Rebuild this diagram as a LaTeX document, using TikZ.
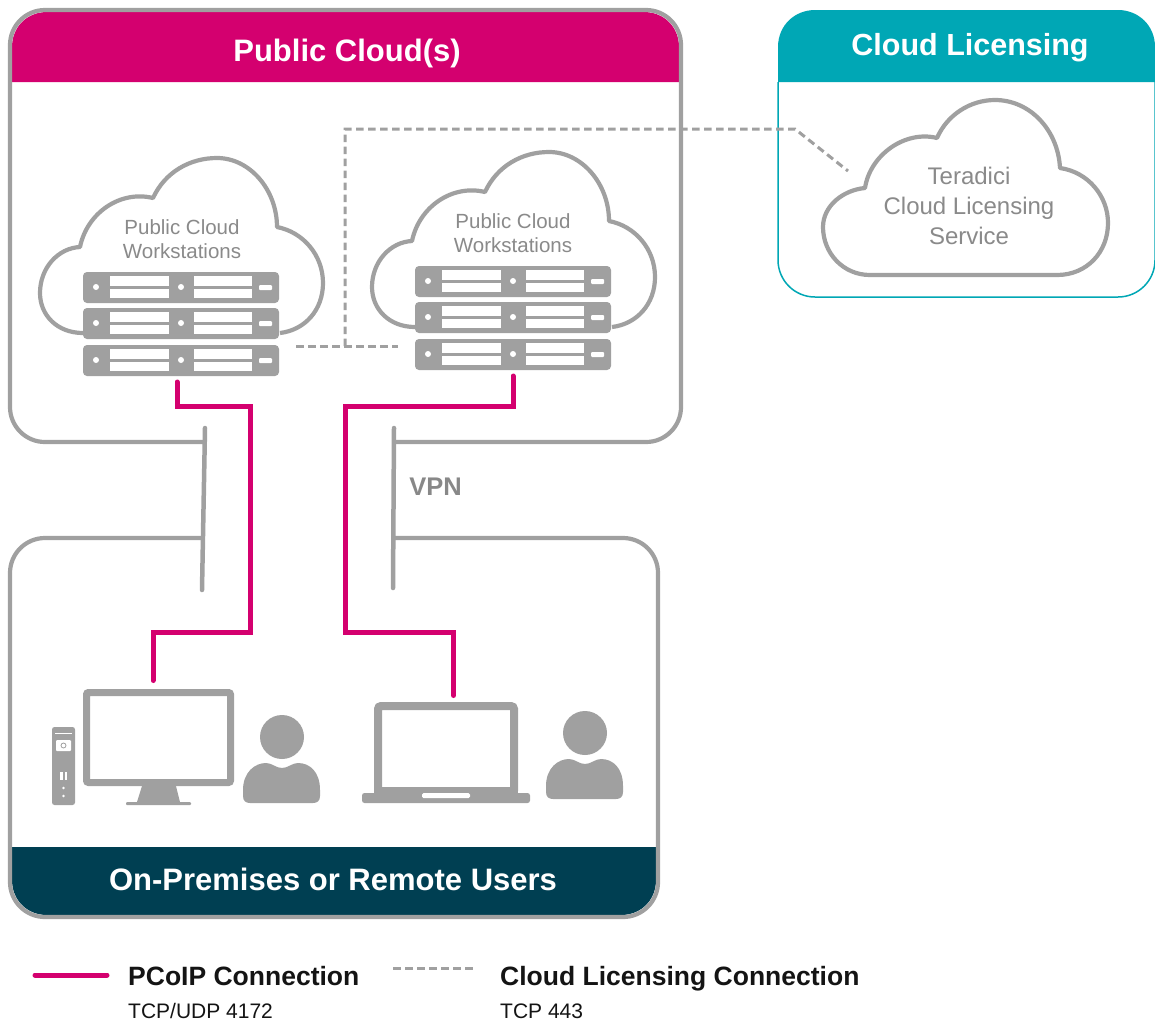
\documentclass[tikz,border=0pt]{standalone}
\usepackage{fontspec}
\setmainfont{Liberation Sans}
\usetikzlibrary{calc}
\definecolor{pcoipmag}{HTML}{D4006F}
\definecolor{licteal}{HTML}{00A7B5}
\definecolor{navyband}{HTML}{003F52}
\definecolor{iconGray}{HTML}{A0A0A0}
\definecolor{cloudText}{HTML}{8A8A8A}
\tikzset{
  panel/.style={draw=iconGray,line width=4.2pt,rounded corners=35pt,line join=round},
  iconfill/.style={fill=iconGray,draw=none},
  slot/.style={fill=white,draw=none},
  cloudline/.style={draw=iconGray,line width=4.2pt,line join=round,fill=none},
  pcoip/.style={draw=pcoipmag,line width=5pt,line cap=round,line join=miter},
  lic/.style={draw=iconGray,line width=3pt,dash pattern=on 7.5pt off 4.5pt},
  vpnbar/.style={draw=iconGray,line width=4.5pt,line cap=round},
  band/.style={font=\bfseries\fontsize{31}{31}\selectfont,text=white,inner sep=0pt},
  cloudlabel/.style={font=\fontsize{20.5}{24}\selectfont,text=cloudText,align=center,inner sep=0pt},
  legendhead/.style={font=\bfseries\fontsize{26.5}{26.5}\selectfont,text=black!92,anchor=base west,inner sep=0pt},
  legendsub/.style={font=\fontsize{21}{21}\selectfont,text=black!92,anchor=base west,inner sep=0pt},
  server/.style={fill=iconGray,draw=none,rounded corners=4pt,minimum width=196pt,minimum height=31pt,inner sep=0pt,outer sep=0pt,anchor=north west}
}
% name, left x, top y
\newcommand{\serverbox}[3]{%
  \begin{scope}[shift={(#2,#3)}]
    \node[server] (#1) at (0,0) {};
    \fill[slot] (27,4) rectangle (86,14);
    \fill[slot] (27,17) rectangle (86,26);
    \fill[slot] (111,4) rectangle (169,14);
    \fill[slot] (111,17) rectangle (169,26);
    \fill[slot] (13,15) circle (3);
    \fill[slot] (98,15) circle (3);
    \fill[slot,rounded corners=1pt] (176,13) rectangle (189,18);
  \end{scope}}
% open cloud outline, origin at reference cloud one
\newcommand{\openCloud}{%
  \draw[cloudline] (83,333) .. controls (57,333) and (40,315) .. (40,293)
     .. controls (40,268) and (58,248) .. (80,247)
     .. controls (87,213) and (120,190) .. (153,198)
     .. controls (165,172) and (190,158) .. (217,158)
     .. controls (250,158) and (277,190) .. (277,227)
     .. controls (303,232) and (323,255) .. (323,283)
     .. controls (323,310) and (305,330) .. (280,333);}
\newcommand{\userIcon}{%
  \fill[iconfill] (282,737) circle (22);
  \fill[iconfill] (243,790) .. controls (243,772) and (255,763) .. (266,763)
     .. controls (272,763) and (276,768) .. (282,768)
     .. controls (288,768) and (292,763) .. (298,763)
     .. controls (310,763) and (320,772) .. (320,790) -- (320,796)
     .. controls (320,801) and (317,803) .. (313,803) -- (250,803)
     .. controls (246,803) and (243,801) .. (243,796) -- cycle;}
\begin{document}
\begin{tikzpicture}[x=1pt,y=-1pt]
\useasboundingbox[fill=white] (0,0) rectangle (1155,1023);

% band fills
\fill[pcoipmag] (12,82) -- (12,47) .. controls (12,27) and (27,12) .. (47,12)
   -- (644,12) .. controls (664,12) and (679,27) .. (679,47) -- (679,82) -- cycle;
\fill[licteal] (778,82) -- (778,47) .. controls (778,25) and (795,10) .. (815,10)
   -- (1118,10) .. controls (1138,10) and (1155,25) .. (1155,47) -- (1155,82) -- cycle;
\fill[navyband] (12,847) -- (12,880) .. controls (12,900) and (27,915) .. (47,915)
   -- (621,915) .. controls (641,915) and (656,900) .. (656,880) -- (656,847) -- cycle;

% panels
\draw[panel] (205,442) -- (10,442) -- (10,10) -- (681,10) -- (681,442) -- (394,442);
\draw[draw=licteal,line width=1.5pt,rounded corners=37pt] (778,82) -- (778,297) -- (1155,297) -- (1155,82);
\draw[panel] (204,538) -- (10,538) -- (10,917) -- (658,917) -- (658,538) -- (394,538);

% VPN bars
\coordinate (barAtop) at (205,428);
\coordinate (barAbot) at (202,590);
\coordinate (barBtop) at (394,428);
\coordinate (barBbot) at (393,588);
\draw[vpnbar] (barAtop) -- (barAbot);
\draw[vpnbar] (barBtop) -- (barBbot);

% titles
\node[band] (titlePublic) at (347,53) {Public Cloud(s)};
\node[band,font=\bfseries\fontsize{30.5}{30.5}\selectfont] (titleLic) at (970,48) {Cloud Licensing};
\node[band] (titleUsers) at (333,879) {On-Premises or Remote Users};
\node[font=\bfseries\fontsize{25.5}{25.5}\selectfont,text=iconGray!85!black,inner sep=0pt] (vpnLabel) at (435.5,487) {VPN};

% clouds
\openCloud
\begin{scope}[shift={(332,-6)}]\openCloud\end{scope}
\draw[cloudline] (870,275) .. controls (843,275) and (823,253) .. (823,227)
   .. controls (823,206) and (843,190) .. (865,188)
   .. controls (870,155) and (905,130) .. (937,138)
   .. controls (947,115) and (970,100) .. (995,100)
   .. controls (1030,100) and (1058,130) .. (1060,168)
   .. controls (1088,172) and (1108,196) .. (1108,223)
   .. controls (1108,252) and (1087,275) .. (1057,275) -- cycle;

\node[cloudlabel] (cloudA) at (182,239) {Public Cloud\\Workstations};
\node[cloudlabel] (cloudB) at (513,233) {Public Cloud\\Workstations};
\node[cloudlabel,font=\fontsize{24}{30}\selectfont] (cloudC) at (969,206) {Teradici\\Cloud Licensing\\Service};

% servers
\serverbox{srvA1}{83}{272}
\serverbox{srvA2}{83}{308}
\serverbox{srvA3}{83}{345}
\serverbox{srvB1}{415}{266}
\serverbox{srvB2}{415}{302}
\serverbox{srvB3}{415}{339}

% monitor
\node[draw=iconGray,line width=7pt,rounded corners=2pt,minimum width=144pt,minimum height=90pt,inner sep=0pt,outer sep=0pt] (monitor) at (158.5,737.5) {};
\fill[iconfill] (142,786) -- (176,786) -- (180,802) -- (137,802) -- cycle;
\fill[iconfill,rounded corners=1pt] (126,802) rectangle (191,805);
% tower
\fill[iconfill,rounded corners=2.5pt] (52,727) rectangle (75,805);
\fill[slot] (55,732.5) rectangle (72,734);
\fill[slot,rounded corners=1pt] (56,740) rectangle (71,751);
\draw[iconGray,line width=0.8pt] (63.5,745.5) circle (2.5);
\fill[slot] (60,772) rectangle (62.5,780);
\fill[slot] (64.5,772) rectangle (67,780);
\fill[slot] (63.5,788) circle (1.3);
\fill[slot] (63.5,796) circle (1.3);
\userIcon

% laptop
\node[draw=iconGray,line width=8pt,rounded corners=3pt,minimum width=136pt,minimum height=87pt,inner sep=0pt,outer sep=0pt] (laptop) at (446,749.5) {};
\fill[iconfill] (374,787) rectangle (518,793);
\fill[iconfill,rounded corners=2.5pt] (362,793) rectangle (530,803);
\fill[iconfill] (372,793) rectangle (520,797);
\fill[slot,rounded corners=1.5pt] (422,793) rectangle (470,798);
\begin{scope}[shift={(303,-4)}]\userIcon\end{scope}

% PCoIP connectors
\coordinate (aStart) at ([shift={(-4,6)}]srvA3.south);
\coordinate (aEnd) at ([shift={(-5.5,-12)}]monitor.north);
\coordinate (bStart) at ([shift={(0,6)}]srvB3.south);
\coordinate (bEnd) at ([shift={(7.5,-10.5)}]laptop.north);
\draw[pcoip] (aStart) -- (aStart |- 0,406) -- (250,406) -- (250,632) -- (aEnd |- 0,632) -- (aEnd);
\draw[pcoip] (bStart) -- (bStart |- 0,406) -- (345,406) -- (345,632) -- (bEnd |- 0,632) -- (bEnd);

% licensing connectors
\coordinate (licA) at ([shift={(17,-14.5)}]srvA3.east);
\coordinate (licB) at ([shift={(-17,-8.5)}]srvB3.west);
\coordinate (licJoin) at (345,346);
\coordinate (licCorner) at (795,129);
\coordinate (licCloud) at (848,171);
\draw[lic] (licA) -- (licB);
\draw[lic] (licJoin) -- (345,129) -- (licCorner) -- (licCloud);

% legend
\coordinate (legMagA) at (35,975);
\coordinate (legMagB) at (107,975);
\coordinate (legDotA) at (393,968);
\coordinate (legDotB) at (473,968);
\draw[pcoip] (legMagA) -- (legMagB);
\draw[lic] (legDotA) -- (legDotB);
\node[legendhead] (legP) at (128,985) {PCoIP Connection};
\node[legendsub] (legPs) at (128,1018) {TCP/UDP 4172};
\node[legendhead] (legC) at (500,985) {Cloud Licensing Connection};
\node[legendsub] (legCs) at (500,1018) {TCP 443};
\end{tikzpicture}
\end{document}
